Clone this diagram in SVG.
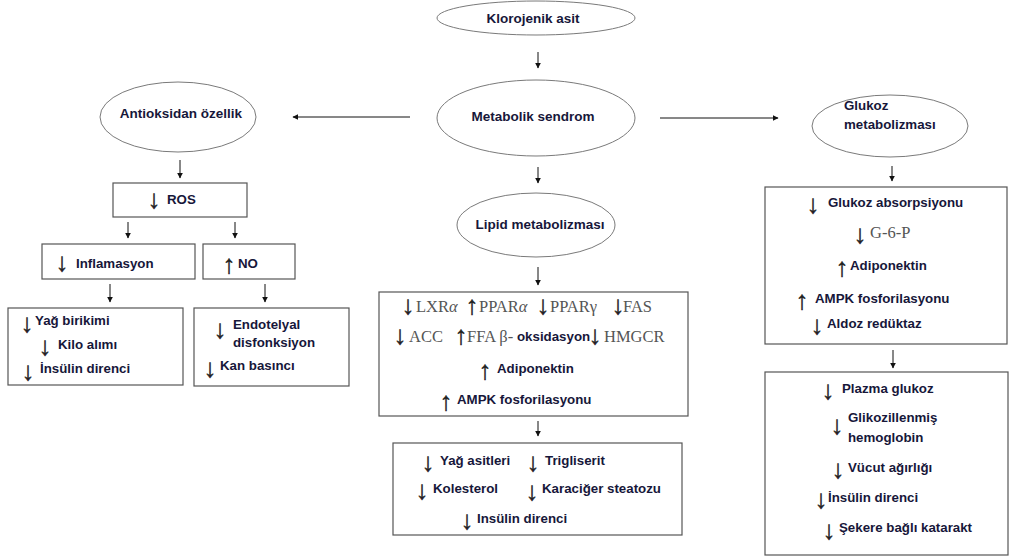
<svg xmlns="http://www.w3.org/2000/svg" width="1009" height="560" viewBox="0 0 1009 560">
<style>
.bg{fill:#ffffff}
.ell{fill:#ffffff;stroke:#7a7a7a;stroke-width:1}
.box{fill:#ffffff;stroke:#555555;stroke-width:1.2}
.t{font-family:"Liberation Sans",Arial,sans-serif;font-weight:bold;font-size:13.3px;fill:#17173a}
.tc{font-family:"Liberation Sans",Arial,sans-serif;font-weight:bold;font-size:13.5px;fill:#17173a;text-anchor:middle}
.s{font-family:"Liberation Serif","Times New Roman",serif;font-size:16.5px;fill:#555555}
.a{font-family:"Liberation Serif","Times New Roman",serif;font-size:26px;fill:#222222;stroke:#222222;stroke-width:0.4;text-anchor:middle}
.c{stroke:#111111;stroke-width:1;fill:none;marker-end:url(#ah)}
</style>
<defs>
<marker id="ah" viewBox="0 0 10 10" refX="9" refY="5" markerWidth="6" markerHeight="6" orient="auto" markerUnits="userSpaceOnUse">
<path d="M0,0 L10,5 L0,10 z" fill="#111111"/>
</marker>
</defs>
<rect class="bg" x="0" y="0" width="1009" height="560"/>
<g id="connectors">
<line class="c" x1="538" y1="52" x2="538" y2="68"/>
<line class="c" x1="410" y1="117" x2="293" y2="117"/>
<line class="c" x1="660" y1="118" x2="778" y2="118"/>
<line class="c" x1="538" y1="167" x2="538" y2="183"/>
<line class="c" x1="538" y1="267" x2="538" y2="285"/>
<line class="c" x1="538" y1="421" x2="538" y2="436"/>
<line class="c" x1="180" y1="160" x2="180" y2="178"/>
<line class="c" x1="128" y1="222" x2="128" y2="238"/>
<line class="c" x1="235" y1="222" x2="235" y2="238"/>
<line class="c" x1="110" y1="284" x2="110" y2="302"/>
<line class="c" x1="265" y1="284" x2="265" y2="302"/>
<line class="c" x1="892" y1="166" x2="892" y2="181"/>
<line class="c" x1="893" y1="350" x2="893" y2="368"/>
</g>
<g id="klorojenik">
<ellipse class="ell" cx="536" cy="18" rx="99" ry="17"/>
<text class="tc" x="533" y="23">Klorojenik asit</text>
</g>
<g id="metabolik">
<ellipse class="ell" cx="536" cy="118" rx="99" ry="38"/>
<text class="tc" x="533" y="121" font-size="14px">Metabolik sendrom</text>
</g>
<g id="antioksidan">
<ellipse class="ell" cx="178" cy="117" rx="78" ry="35"/>
<text class="tc" x="181" y="118">Antioksidan özellik</text>
</g>
<g id="ros">
<rect class="box" x="113" y="183" width="134" height="34"/>
<text class="a" x="154" y="208">↓</text>
<text class="t" x="167" y="204" font-size="12.5px">ROS</text>
</g>
<g id="inflamasyon">
<rect class="box" x="42" y="244" width="153" height="35"/>
<text class="a" x="62" y="271">↓</text>
<text class="t" x="76" y="268" font-size="13px">Inflamasyon</text>
</g>
<g id="no">
<rect class="box" x="203" y="244" width="92" height="35"/>
<text class="a" x="229" y="273">↑</text>
<text class="t" x="238" y="268" font-size="12.5px">NO</text>
</g>
<g id="yag">
<rect class="box" x="8" y="308" width="175" height="77"/>
<text class="a" x="27" y="332">↓</text>
<text class="t" x="35" y="325">Yağ birikimi</text>
<text class="a" x="45" y="355">↓</text>
<text class="t" x="58" y="349">Kilo alımı</text>
<text class="a" x="28" y="380">↓</text>
<text class="t" x="40" y="373" font-size="13px">İnsülin direnci</text>
</g>
<g id="endotelyal">
<rect class="box" x="194" y="308" width="155" height="78"/>
<text class="a" x="220" y="338">↓</text>
<text class="t" x="233" y="329">Endotelyal</text>
<text class="t" x="233" y="347">disfonksiyon</text>
<text class="a" x="210" y="377">↓</text>
<text class="t" x="220" y="370">Kan basıncı</text>
</g>
<g id="lipid">
<ellipse class="ell" cx="536" cy="225" rx="79" ry="32"/>
<text class="tc" x="540" y="229">Lipid metabolizması</text>
</g>
<g id="lipidbox">
<rect class="box" x="379" y="292" width="309" height="124"/>
<text class="a" x="408" y="314">↓</text>
<text class="s" x="416" y="312">LXR<tspan font-style="italic">α</tspan></text>
<text class="a" x="472" y="314">↑</text>
<text class="s" x="479" y="312">PPAR<tspan font-style="italic">α</tspan></text>
<text class="a" x="543" y="314">↓</text>
<text class="s" x="550" y="312">PPARγ</text>
<text class="a" x="618" y="314">↓</text>
<text class="s" x="623" y="312">FAS</text>
<text class="a" x="400" y="344">↓</text>
<text class="s" x="409" y="342">ACC</text>
<text class="a" x="461" y="344">↑</text>
<text class="s" x="467" y="342">FFA β-</text>
<text class="t" x="517" y="341" font-size="10px">oksidasyon</text>
<text class="a" x="595" y="344">↓</text>
<text class="s" x="604" y="342">HMGCR</text>
<text class="a" x="485" y="379">↑</text>
<text class="t" x="497" y="373" font-size="14px">Adiponektin</text>
<text class="a" x="446" y="410">↑</text>
<text class="t" x="457" y="404">AMPK fosforilasyonu</text>
</g>
<g id="lipidresult">
<rect class="box" x="393" y="443" width="289" height="92"/>
<text class="a" x="428" y="471">↓</text>
<text class="t" x="440" y="465">Yağ asitleri</text>
<text class="a" x="533" y="471">↓</text>
<text class="t" x="545" y="465">Trigliserit</text>
<text class="a" x="422" y="499">↓</text>
<text class="t" x="433" y="493">Kolesterol</text>
<text class="a" x="532" y="500">↓</text>
<text class="t" x="542" y="493">Karaciğer steatozu</text>
<text class="a" x="467" y="529">↓</text>
<text class="t" x="477" y="523">Insülin direnci</text>
</g>
<g id="glukoz">
<ellipse class="ell" cx="890" cy="126" rx="78" ry="31"/>
<text class="t" x="844" y="110" font-size="13.8px">Glukoz</text>
<text class="t" x="844" y="129" font-size="13.8px">metabolizması</text>
</g>
<g id="glukozbox">
<rect class="box" x="765" y="187" width="242" height="157"/>
<text class="a" x="813" y="213">↓</text>
<text class="t" x="828" y="207" font-size="13px">Glukoz absorpsiyonu</text>
<text class="a" x="860" y="243">↓</text>
<text class="s" x="870" y="238">G-6-P</text>
<text class="a" x="842" y="276">↑</text>
<text class="t" x="850" y="270" font-size="14px">Adiponektin</text>
<text class="a" x="802" y="309">↑</text>
<text class="t" x="815" y="303">AMPK fosforilasyonu</text>
<text class="a" x="817" y="334">↓</text>
<text class="t" x="827" y="328">Aldoz redüktaz</text>
</g>
<g id="glukozresult">
<rect class="box" x="765" y="372" width="243" height="183"/>
<text class="a" x="828" y="399">↓</text>
<text class="t" x="842" y="393">Plazma glukoz</text>
<text class="a" x="837" y="434">↓</text>
<text class="t" x="848" y="422">Glikozillenmiş</text>
<text class="t" x="848" y="442">hemoglobin</text>
<text class="a" x="838" y="478">↓</text>
<text class="t" x="848" y="472">Vücut ağırlığı</text>
<text class="a" x="821" y="508">↓</text>
<text class="t" x="828" y="502">İnsülin direnci</text>
<text class="a" x="829" y="539">↓</text>
<text class="t" x="839" y="532">Şekere bağlı katarakt</text>
</g>
</svg>
